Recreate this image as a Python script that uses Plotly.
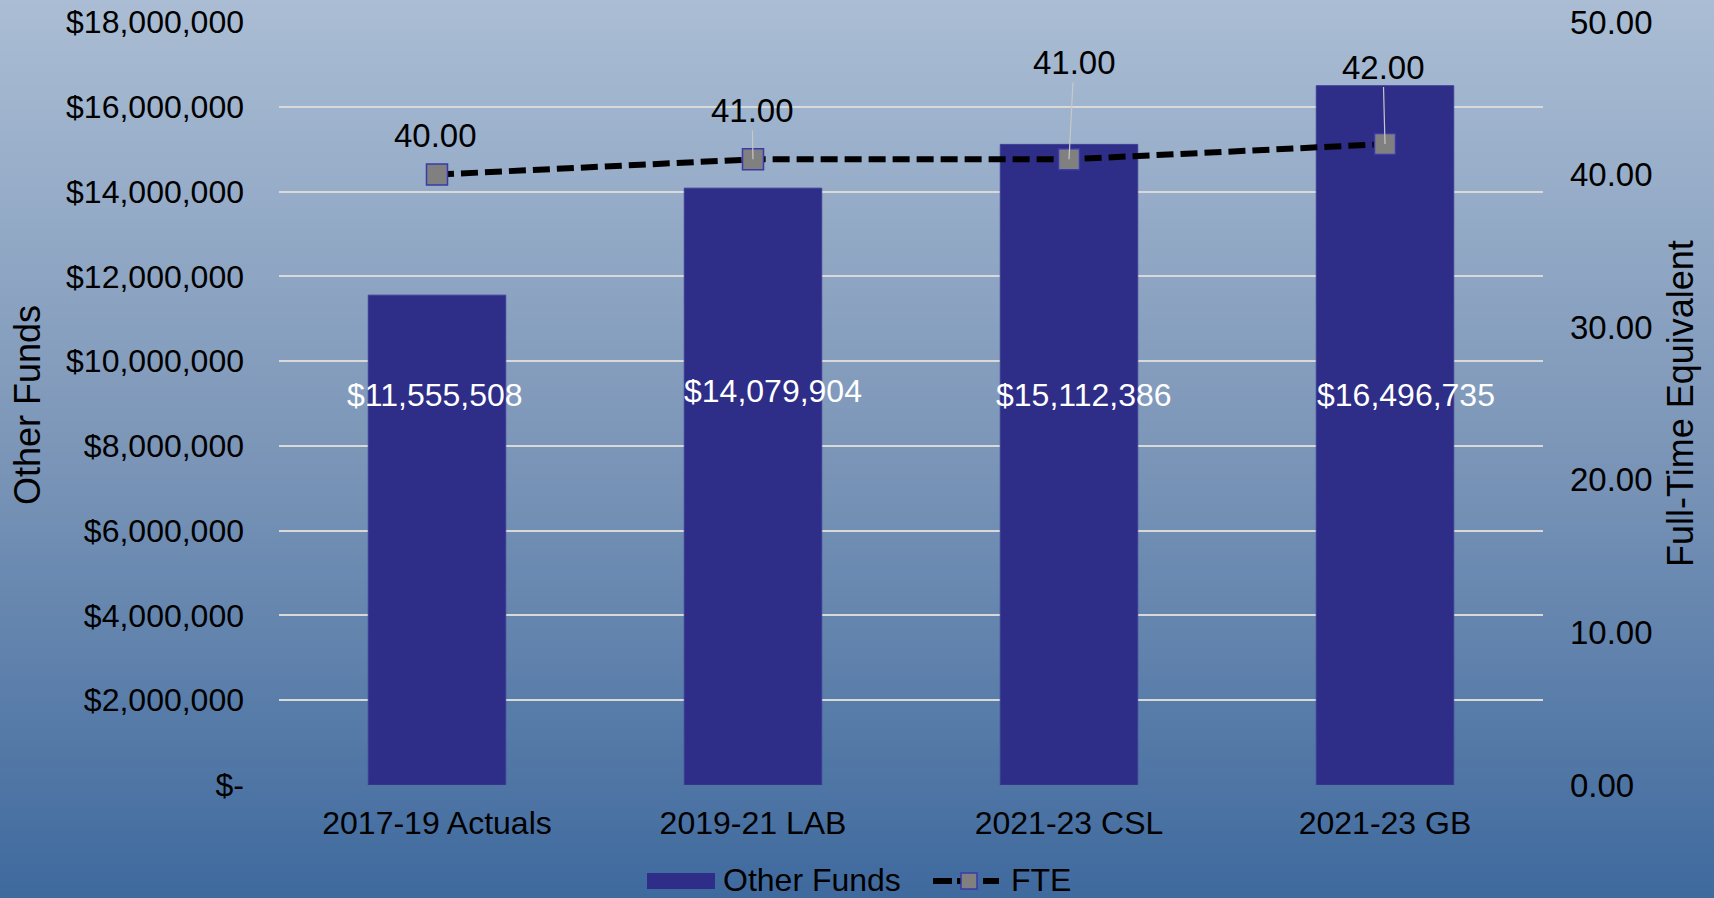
import plotly.graph_objects as go

# ---- data ----
categories = ["2017-19 Actuals", "2019-21 LAB", "2021-23 CSL", "2021-23 GB"]
other_funds = [11555508, 14079904, 15112386, 16496735]
fte = [40.00, 41.00, 41.00, 42.00]
fund_labels = ["$11,555,508", "$14,079,904", "$15,112,386", "$16,496,735"]
left_tickvals = [0, 2e6, 4e6, 6e6, 8e6, 10e6, 12e6, 14e6, 16e6, 18e6]
left_ticktext = ["$-", "$2,000,000", "$4,000,000", "$6,000,000", "$8,000,000",
                 "$10,000,000", "$12,000,000", "$14,000,000", "$16,000,000", "$18,000,000"]
series_names = ["Other Funds", "FTE"]

# ---- layout constants ----
W, H = 1714, 898
ML, MR, MT, MB = 279, 171, 22, 113
PW, PH = W - ML - MR, H - MT - MB
FONT = "Liberation Sans, Arial, sans-serif"
BAR_COLOR = "#2e2d88"
MARKER_FILL = "#808080"
MARKER_EDGE = "#3a3aa8"


def X(px):
    return (px - ML) / PW


def Y(py):
    return (MT + PH - py) / PH


fig = go.Figure()

fig.add_trace(go.Bar(
    x=categories, y=other_funds, name=series_names[0],
    marker=dict(color=BAR_COLOR, line=dict(color="#3d3d96", width=1)),
    width=0.435, yaxis="y", hoverinfo="y", showlegend=False,
))
fig.add_trace(go.Scatter(
    x=categories, y=fte, name=series_names[1], yaxis="y2", mode="lines+markers",
    line=dict(color="black", width=6, dash="17px,7px"),
    marker=dict(symbol="square", size=21, color=MARKER_FILL,
                line=dict(color=MARKER_EDGE, width=1.5)),
    showlegend=False,
))

# background gradient (vertical) drawn as thin bands in paper coords
top_rgb = (170, 189, 212)
mid_rgb = (124, 150, 184)
bot_rgb = (63, 106, 158)
shapes = []
band = 3
for py in range(0, H, band):
    t = (py + band / 2) / H
    if t < 0.5:
        a, b, f = top_rgb, mid_rgb, t / 0.5
    else:
        a, b, f = mid_rgb, bot_rgb, (t - 0.5) / 0.5
    c = tuple(round(a[i] + (b[i] - a[i]) * f) for i in range(3))
    shapes.append(dict(
        type="rect", xref="paper", yref="paper", layer="below",
        x0=X(-5), x1=X(W + 5), y0=Y(py + band + 0.5), y1=Y(py - 0.5),
        fillcolor="rgb(%d,%d,%d)" % c, line=dict(width=0),
    ))

# custom legend (bottom)
LEG_Y = 881
shapes.append(dict(type="rect", xref="paper", yref="paper", layer="above",
                   x0=X(647), x1=X(715), y0=Y(LEG_Y + 8), y1=Y(LEG_Y - 8),
                   fillcolor=BAR_COLOR, line=dict(width=0)))
shapes.append(dict(type="line", xref="paper", yref="paper", layer="above",
                   x0=X(933), x1=X(952), y0=Y(LEG_Y), y1=Y(LEG_Y),
                   line=dict(color="black", width=6)))
shapes.append(dict(type="line", xref="paper", yref="paper", layer="above",
                   x0=X(983), x1=X(999), y0=Y(LEG_Y), y1=Y(LEG_Y),
                   line=dict(color="black", width=6)))
shapes.append(dict(type="line", xref="paper", yref="paper", layer="above",
                   x0=X(957), x1=X(962), y0=Y(LEG_Y), y1=Y(LEG_Y),
                   line=dict(color="black", width=6)))
shapes.append(dict(type="rect", xref="paper", yref="paper", layer="above",
                   x0=X(961), x1=X(977), y0=Y(LEG_Y + 8), y1=Y(LEG_Y - 8),
                   fillcolor=MARKER_FILL, line=dict(color=MARKER_EDGE, width=1.5)))

annotations = []
annotations.append(dict(x=X(721), y=Y(LEG_Y - 1), xref="paper", yref="paper",
                        xanchor="left", yanchor="middle", text=series_names[0],
                        showarrow=False, font=dict(family=FONT, size=32, color="black")))
annotations.append(dict(x=X(1009), y=Y(LEG_Y - 1), xref="paper", yref="paper",
                        xanchor="left", yanchor="middle", text=series_names[1],
                        showarrow=False, font=dict(family=FONT, size=32, color="black")))

# bar value labels (white)
label_y = 9.2e6
label_xshift = [-2, 20, 15, 21]
label_yshift = [0, 4, 0, 0]
for i, (cat, txt) in enumerate(zip(categories, fund_labels)):
    annotations.append(dict(
        x=cat, y=label_y, xref="x", yref="y", text=txt, showarrow=False,
        xshift=label_xshift[i], yshift=label_yshift[i],
        font=dict(family=FONT, size=32, color="white"),
    ))
# FTE labels with leader lines
fte_offsets = [(-2, -39), (-1, -49), (5, -97), (-2, -77)]
for i, (cat, v) in enumerate(zip(categories, fte)):
    ax, ay = fte_offsets[i]
    annotations.append(dict(
        x=cat, y=v, xref="x", yref="y2", text="%.2f" % v,
        showarrow=True, arrowhead=0, arrowwidth=1.2,
        arrowcolor="rgba(0,0,0,0)" if i == 0 else "#c8c8c8",
        ax=ax, ay=ay, axref="pixel", ayref="pixel",
        font=dict(family=FONT, size=33, color="black"),
    ))
# axis titles
annotations.append(dict(
    x=X(27), y=Y(405), xref="paper", yref="paper",
    xanchor="center", yanchor="middle",
    text="Other Funds", textangle=-90, showarrow=False,
    font=dict(family=FONT, size=36, color="black"),
))
annotations.append(dict(
    x=X(1680), y=Y(404), xref="paper", yref="paper",
    xanchor="center", yanchor="middle",
    text="Full-Time Equivalent", textangle=-90, showarrow=False,
    font=dict(family=FONT, size=36, color="black"),
))

fig.update_layout(
    width=W, height=H,
    margin=dict(l=ML, r=MR, t=MT, b=MB, autoexpand=False),
    paper_bgcolor="#7d97b8", plot_bgcolor="rgba(0,0,0,0)",
    font=dict(family=FONT, size=32, color="black"),
    bargap=0.565,
    xaxis=dict(
        showgrid=False, zeroline=False, showline=False, ticks="",
        tickfont=dict(family=FONT, size=32, color="black"),
        ticklabelstandoff=16,
    ),
    yaxis=dict(
        range=[0, 18e6], tickvals=left_tickvals, ticktext=left_ticktext,
        showgrid=True, gridcolor="#d9d9d9", gridwidth=2, zeroline=False,
        showline=False, ticks="", ticklabelstandoff=34,
        tickfont=dict(family=FONT, size=32, color="black"),
    ),
    yaxis2=dict(
        range=[0, 50], dtick=10, tickformat=".2f", overlaying="y", side="right",
        showgrid=False, zeroline=False, showline=False, ticks="",
        ticklabelstandoff=26,
        tickfont=dict(family=FONT, size=33, color="black"),
    ),
    showlegend=False,
    shapes=shapes,
    annotations=annotations,
)

fig.write_html(
    "out.html",
    config={"displayModeBar": False},
    post_script="document.body.style.margin='0';document.body.style.overflow='hidden';",
)
